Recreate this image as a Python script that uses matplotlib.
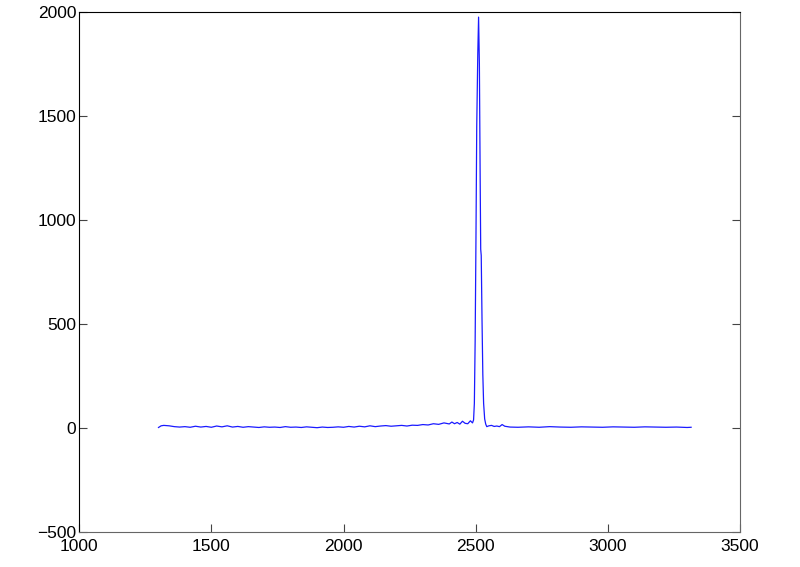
import matplotlib.pyplot as plt

# baseline before the peak
x_pre = [1300, 1310, 1320, 1340, 1360, 1380, 1400, 1420, 1440, 1460, 1480, 1500,
         1520, 1540, 1560, 1580, 1600, 1620, 1640, 1660, 1680, 1700, 1720, 1740,
         1760, 1780, 1800, 1820, 1840, 1860, 1880, 1900, 1920, 1940, 1960, 1980,
         2000, 2020, 2040, 2060, 2080, 2100, 2120, 2140, 2160, 2180, 2200, 2220,
         2240, 2260, 2280, 2300, 2320, 2340, 2360, 2380, 2400, 2410, 2420, 2430,
         2440, 2450, 2460, 2470, 2480, 2488]
y_pre = [4, 12, 14, 12, 8, 6, 8, 5, 10, 6, 9, 5,
         11, 7, 12, 6, 9, 5, 8, 6, 4, 7, 5, 6,
         4, 8, 5, 6, 4, 7, 5, 3, 6, 4, 5, 7,
         5, 9, 6, 10, 7, 12, 8, 11, 13, 10, 12, 14,
         11, 15, 14, 18, 16, 22, 19, 26, 21, 30, 22, 28,
         20, 34, 24, 22, 36, 26]

# the peak
x_peak = [2492, 2495, 2498, 2501, 2504, 2508, 2511, 2514, 2517, 2519, 2521, 2524,
          2527, 2530, 2534, 2538, 2542]
y_peak = [40, 120, 420, 900, 1450, 1800, 1975, 1750, 1200, 860, 830, 520,
          260, 120, 45, 20, 8]

# baseline after the peak
x_post = [2550, 2560, 2570, 2580, 2590, 2600, 2610, 2630, 2660, 2700, 2740, 2780,
          2820, 2860, 2900, 2940, 2980, 3020, 3060, 3100, 3140, 3180, 3220, 3260,
          3300, 3315]
y_post = [12, 14, 9, 11, 8, 18, 10, 6, 5, 7, 5, 8,
          6, 5, 7, 6, 5, 7, 6, 5, 7, 6, 5, 6,
          4, 5]

x = x_pre + x_peak + x_post
y = y_pre + y_peak + y_post

plt.rcParams['font.family'] = ['Liberation Sans', 'DejaVu Sans']

fig = plt.figure(figsize=(8, 5.67), dpi=100)
ax = fig.add_axes([0.099, 0.061, 0.826, 0.918])
ax.plot(x, y, color='#1a1aff', linewidth=0.9)

ax.set_xlim(1000, 3500)
ax.set_ylim(-500, 2000)
ax.set_xticks([1000, 1500, 2000, 2500, 3000, 3500])
ax.set_yticks([-500, 0, 500, 1000, 1500, 2000])
ax.tick_params(direction='in', length=6, labelsize=12.5, top=False, right=True,
               color='#444444')
ax.tick_params(axis='x', pad=5)
ax.tick_params(axis='y', pad=2)

ax.spines['left'].set_color('black')
ax.spines['top'].set_color('black')
ax.spines['bottom'].set_color('#666666')
ax.spines['right'].set_color('#666666')

plt.savefig('out.png', dpi=100)
